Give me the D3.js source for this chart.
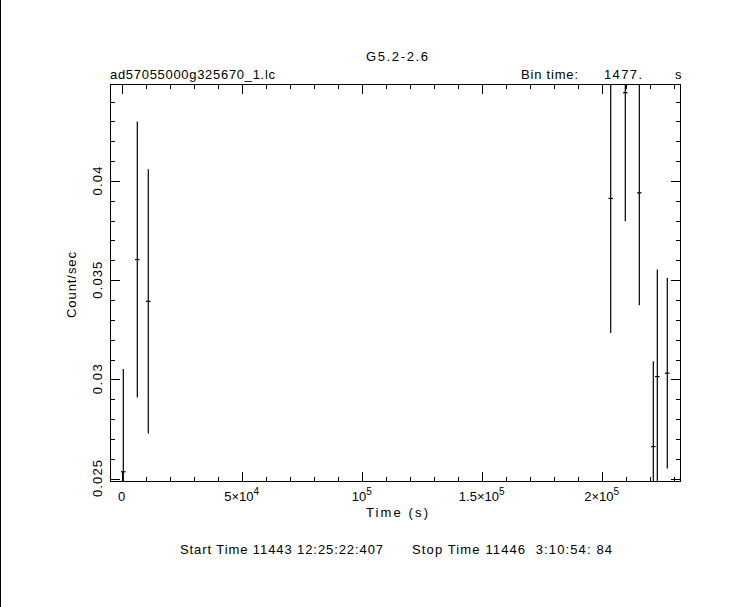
<!DOCTYPE html>
<html><head><meta charset="utf-8">
<script src="https://cdn.jsdelivr.net/npm/d3@7"></script>
<style>
body{margin:0;background:#fff;}
text{font-family:"Liberation Sans","DejaVu Sans",sans-serif;fill:#000;}
</style></head>
<body>
<svg id="c" width="743" height="607"></svg>
<script>
// ---- data ----
const times = [670, 6500, 11080, 203750, 209830, 215670, 221500, 223170, 227330];
const rates = [0.02534, 0.03604, 0.03393, 0.03912, 0.04445, 0.0394, 0.02661, 0.03014, 0.03031];
const errors = [0.00518, 0.00696, 0.00666, 0.00679, 0.00648, 0.00567, 0.0043, 0.0054, 0.0048];
const binTime = 1477;
const xMajor = [0, 50000, 100000, 150000, 200000];
const xMajorLabels = [["0",""],["5×10","4"],["10","5"],["1.5×10","5"],["2×10","5"]];
const yMajor = [0.025, 0.03, 0.035, 0.04];
const yMajorLabels = ["0.025","0.03","0.035","0.04"];

const svg = d3.select("#c");
const L=110, R=681, T=84, B=482;
const x = d3.scaleLinear().domain([-4875, 233040]).range([L, R]);
const y = d3.scaleLinear().domain([0.024824, 0.04489]).range([B, T]);

// left edge line
svg.append("line").attr("x1",0.5).attr("x2",0.5).attr("y1",0).attr("y2",607).attr("stroke","#000");

const g = svg.append("g").attr("stroke","#000").attr("stroke-width",1).attr("fill","none");
g.append("rect").attr("x",L+0.5).attr("y",T+0.5).attr("width",R-L-1).attr("height",B-T-1);

// x ticks
const xMinor = d3.range(0, 233040, 10000);
xMinor.forEach(v=>{
  const px = Math.round(x(v))+0.5;
  const len = xMajor.includes(v)?10:5;
  g.append("line").attr("x1",px).attr("x2",px).attr("y1",B).attr("y2",B-len);
  g.append("line").attr("x1",px).attr("x2",px).attr("y1",T).attr("y2",T+len);
});
// y ticks
const yMinor = d3.range(25, 45, 1).map(v=>v/1000);
yMinor.forEach(v=>{
  const py = Math.round(y(v))+0.5;
  const len = (Math.round(v*1000)%5===0)?10:5;
  g.append("line").attr("x1",L).attr("x2",L+len).attr("y1",py).attr("y2",py);
  g.append("line").attr("x1",R).attr("x2",R-len).attr("y1",py).attr("y2",py);
});

// data
const d = times.map((t,i)=>({t, r:rates[i], e:errors[i]}));
svg.append("clipPath").attr("id","cp").append("rect").attr("x",L).attr("y",T).attr("width",R-L).attr("height",B-T);
const dg = svg.append("g").attr("clip-path","url(#cp)").attr("stroke","#000").attr("stroke-width",1.2);
d.forEach(p=>{
  const px = x(p.t);
  dg.append("line").attr("x1",px).attr("x2",px).attr("y1",y(p.r-p.e)).attr("y2",y(p.r+p.e));
  dg.append("line").attr("x1",x(p.t-binTime/2)-0.5).attr("x2",x(p.t+binTime/2)+0.5).attr("y1",y(p.r)).attr("y2",y(p.r));
});

// x tick labels
xMajor.forEach((v,i)=>{
  const t = svg.append("text").attr("x",x(v)).attr("y",501).attr("text-anchor","middle").attr("font-size",13);
  t.append("tspan").text(xMajorLabels[i][0]);
  if(xMajorLabels[i][1]) t.append("tspan").attr("dy",-6).attr("font-size",10).text(xMajorLabels[i][1]);
});
// y tick labels
const yLens = [37, 30, 37, 29];
yMajor.forEach((v,i)=>{
  svg.append("text").attr("transform",`translate(102,${y(v)}) rotate(-90)`).attr("text-anchor","middle").attr("font-size",13)
    .attr("textLength",yLens[i]).attr("lengthAdjust","spacing").text(yMajorLabels[i]);
});

// titles
function txt(xp, yp, s, len, anchor){
  const t = svg.append("text").attr("x",xp).attr("y",yp).attr("font-size",13).text(s);
  if(anchor) t.attr("text-anchor",anchor);
  if(len) t.attr("textLength",len).attr("lengthAdjust","spacing");
  return t;
}
txt(397, 61, "G5.2-2.6", 62, "middle");
txt(110, 79, "ad57055000g325670_1.lc", 165);
txt(521, 79, "Bin time:", 57);
txt(604, 79, "1477.", 38);
txt(675, 79, "s");
txt(397, 517, "Time (s)", 62, "middle");
svg.append("text").attr("transform","translate(76,285) rotate(-90)").attr("text-anchor","middle").attr("font-size",13)
  .attr("textLength",66).attr("lengthAdjust","spacing").text("Count/sec");
txt(180, 554, "Start Time 11443 12:25:22:407", 203);
txt(412, 554, "Stop Time 11446  3:10:54: 84", 200).style("white-space","pre");
</script>
</body></html>
